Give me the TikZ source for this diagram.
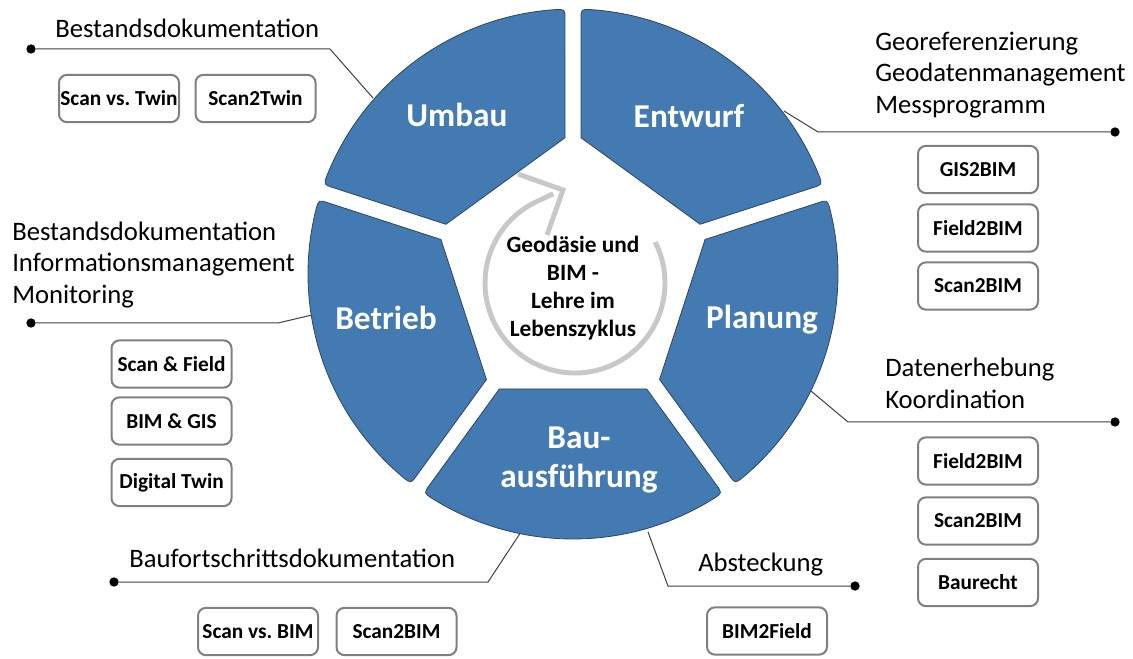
\documentclass[tikz,border=0pt]{standalone}
\usepackage{fontspec}
\setmainfont{Carlito}
\frenchspacing
\definecolor{segblue}{RGB}{67,122,178}
\definecolor{segedge}{RGB}{45,70,100}
\definecolor{boxgray}{RGB}{128,128,128}
\definecolor{conngray}{RGB}{64,64,64}
\definecolor{arrowgray}{RGB}{200,200,200}
\begin{document}
\begin{tikzpicture}[x=0.75pt,y=-0.75pt,
  seg/.style={fill=segblue, draw=segedge, line width=0.6pt},
  seglabel/.style={text=white, font=\fontsize{25}{29.5}\selectfont\bfseries, align=center, inner sep=0pt},
  tag/.style={draw=boxgray, line width=1.5pt, rounded corners=6pt, minimum width=90pt, minimum height=35.5pt, inner sep=0pt, font=\fontsize{16}{19}\selectfont\bfseries, fill=white},
  desc/.style={font=\fontsize{20}{23.6}\selectfont, align=left, anchor=west, inner sep=0pt, text=black},
  conn/.style={draw=conngray, line width=0.75pt},
  dot/.style={circle, fill=black, inner sep=0pt, minimum size=7pt},
  cycarrow/.style={draw=arrowgray, line width=3.7pt}
]
\fill[white] (0,0) rectangle (1133,659);
\useasboundingbox (0,0) rectangle (1133,659);

% connectors (under the segments)
\coordinate (cU) at (373,98);  \coordinate (bU) at (330,49);  \node[dot] (pU) at (31,49) {};
\coordinate (cE) at (784,111); \coordinate (bE) at (818,132); \node[dot] (pE) at (1115,132) {};
\coordinate (cB) at (312,315); \coordinate (bB) at (278,323); \node[dot] (pB) at (31,323) {};
\coordinate (cP) at (811,391); \coordinate (bP) at (848,422); \node[dot] (pP) at (1115,422) {};
\coordinate (cL) at (521,532); \coordinate (bL) at (488,582); \node[dot] (pL) at (114,582) {};
\coordinate (cR) at (648,532); \coordinate (bR) at (668,586); \node[dot] (pR) at (855,586) {};
\draw[conn] (cU) -- (bU) -- (pU);
\draw[conn] (cE) -- (bE) -- (pE);
\draw[conn] (cB) -- (bB) -- (pB);
\draw[conn] (cP) -- (bP) -- (pP);
\draw[conn] (cL) -- (bL) -- (pL);
\draw[conn] (cR) -- (bR) -- (pR);

% ring segments
\begin{scope}[shift={(573,274)}]
\foreach \c in {-126,-54,18,90,162}{
  \path[seg] ({\c-32.11}:265) arc[start angle={\c-32.11}, end angle={\c+32.11}, radius=265]
     .. controls ({\c+34.27}:265) .. ({\c+34.2}:255.1)
     -- ({\c+32.64}:136.5) -- ({\c-32.64}:136.5)
     -- ({\c-34.2}:255.1) .. controls ({\c-34.27}:265) .. ({\c-32.11}:265) -- cycle;
}
\end{scope}

% circular arrow
\begin{scope}[shift={(575,283)}]
\draw[cycarrow] (-27:90) arc[start angle=-27, end angle=245, radius=90] -- (-21.7,-89.2);
\draw[cycarrow, line join=miter] (-57,-109) -- (-12,-93) -- (-28,-48);
\end{scope}

% segment labels
\node[seglabel] (umbau) at (457,115) {Umbau};
\node[seglabel] (entwurf) at (689,116) {Entwurf};
\node[seglabel] (planung) at (762,320) {Planung};
\node[seglabel] (betrieb) at (386,318) {Betrieb};
\node[seglabel] (bau) at (579,460) {Bau-\\ausführung};

\node[font=\fontsize{17.5}{21}\selectfont\bfseries, align=center, inner sep=0pt] (center) at (573,288) {Geodäsie und\\BIM -\\Lehre im\\Lebenszyklus};

% descriptions
\node[desc] (d1) at (55,28) {Bestandsdokumentation};
\node[desc] (d2) at (875,75) {Georeferenzierung\\Geodatenmanagement\\Messprogramm};
\node[desc] (d3) at (12,265) {Bestandsdokumentation\\Informationsmanagement\\Monitoring};
\node[desc] (d4) at (885,383.5) {Datenerhebung\\Koordination};
\node[desc] (d5) at (129,558) {Baufortschrittsdokumentation};
\node[desc] (d6) at (698,565) {Absteckung};

% tags
\node[tag] (t1) at (119,98.5) {Scan vs. Twin};
\node[tag] (t2) at (255.5,98.5) {Scan2Twin};
\node[tag] (t3) at (978,169.5) {GIS2BIM};
\node[tag] (t4) at (978,228) {Field2BIM};
\node[tag] (t5) at (978,286) {Scan2BIM};
\node[tag] (t6) at (171.5,364) {Scan \& Field};
\node[tag] (t7) at (171.5,421) {BIM \& GIS};
\node[tag] (t8) at (171.5,482.5) {Digital Twin};
\node[tag] (t9) at (978,461) {Field2BIM};
\node[tag] (t10) at (978,521) {Scan2BIM};
\node[tag] (t11) at (978,582.5) {Baurecht};
\node[tag] (t12) at (258,631.5) {Scan vs. BIM};
\node[tag] (t13) at (396.5,631.5) {Scan2BIM};
\node[tag] (t14) at (767,631) {BIM2Field};
\end{tikzpicture}
\end{document}
